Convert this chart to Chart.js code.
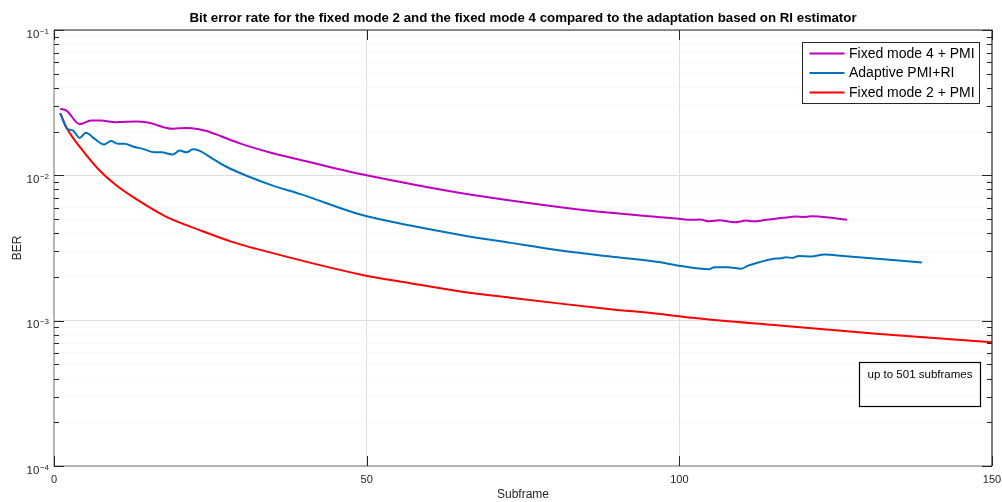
<!DOCTYPE html>
<html>
<head>
<meta charset="utf-8">
<script src="https://cdn.jsdelivr.net/npm/chart.js@4/dist/chart.umd.min.js"></script>
<style>
  html, body { margin: 0; padding: 0; background: #ffffff; overflow: hidden; }
  #wrap { width: 1002px; height: 502px; position: relative; }
</style>
</head>
<body>
<div id="wrap"><canvas id="ber"></canvas></div>
<script>
// Fixed mode 4 + PMI
const mode4Subframe = [1, 2, 4.1, 5.9, 7.5, 9.9, 13.2, 15, 19, 21.2, 23.3, 24.4, 26.8, 29.7, 35, 39.3,
  49, 57, 65, 73, 81, 89, 97, 99.9, 101.9, 103.3, 104.8, 106.4, 108.8, 110.7, 111.8, 113.9,
  116.6, 118.7, 119.8, 121.1, 124.6, 126.8];
const mode4Ber = [0.0287, 0.0279, 0.0225, 0.0238, 0.0238, 0.0232, 0.0235, 0.0231, 0.0209, 0.0212, 0.0207, 0.0202, 0.0185, 0.0166, 0.0142, 0.0128,
  0.0102, 0.00873, 0.00757, 0.00671, 0.00604, 0.00552, 0.00515, 0.00502, 0.00494, 0.00496, 0.00483, 0.0049, 0.00475, 0.00488, 0.00483, 0.00494,
  0.0051, 0.0052, 0.00516, 0.00523, 0.00508, 0.00494];

// Adaptive PMI+RI
const adaptiveSubframe = [1, 2.1, 3, 4.1, 5.1, 6.5, 8, 9.1, 10.2, 11.3, 12.6, 14.2, 16.1, 17.2, 19, 20.1, 21.2, 22.2, 23.2,
  25.4, 27.5, 30.7, 35, 39.3, 49, 57, 65, 73, 81, 89, 97, 99.9, 104.8, 105.6, 107.8, 109.9, 111,
  112.8, 114.7, 116.3, 117.1, 118.1, 119.1, 121.1, 123.2, 126.2, 138.8];
const adaptiveBer = [0.0268, 0.0209, 0.0204, 0.0181, 0.0196, 0.0178, 0.0163, 0.0172, 0.0165, 0.0165, 0.0158, 0.0152, 0.0144, 0.0144, 0.0139, 0.0148, 0.0144, 0.0151, 0.0148,
  0.013, 0.0115, 0.00997, 0.0085, 0.00746, 0.00537, 0.00451, 0.00389, 0.00343, 0.00304, 0.00276, 0.00252, 0.00239, 0.00226, 0.00233, 0.00233, 0.00228, 0.00239,
  0.00252, 0.00265, 0.00269, 0.00273, 0.0027, 0.00279, 0.00276, 0.00285, 0.00279, 0.00251];

// Fixed mode 2 + PMI
const mode2Subframe = [1, 2.2, 4.6, 7.3, 10, 12.6, 17.9, 23.3, 28.6, 32.4, 49, 57, 65, 73, 81, 89, 97, 101.6, 116, 132, 150];
const mode2Ber = [0.0267, 0.0206, 0.0148, 0.0108, 0.0085, 0.0071, 0.0052, 0.0042, 0.00347, 0.00312, 0.00208, 0.00181, 0.00159, 0.00144, 0.00131, 0.0012, 0.00111, 0.00105, 0.000925, 0.000811, 0.00071];

const seriesLabels = ['Fixed mode 4 + PMI', 'Adaptive PMI+RI', 'Fixed mode 2 + PMI'];
const seriesColors = ['#c000c0', '#0072bd', '#ff0000'];

const xTickValues = [0, 50, 100, 150];
const yDecades = [1e-4, 1e-3, 1e-2, 1e-1];
const yTickBase = '10';
const yTickExponents = ['\u22124', '\u22123', '\u22122', '\u22121'];

const titleText = 'Bit error rate for the fixed mode 2 and the fixed mode 4 compared to the adaptation based on RI estimator';
const noteText = 'up to 501 subframes';

const FONT = '"Liberation Sans", Arial, Helvetica, sans-serif';
const AXIS_COLOR = '#262626';

function pairs(xs, ys) { return xs.map((x, i) => ({ x: x, y: ys[i] })); }
function isDecade(v) { return Math.abs(Math.log10(v) - Math.round(Math.log10(v))) < 1e-6; }

// every 1..9 multiple inside each decade becomes a y tick (labels only on decades)
function logTicks() {
  const out = [];
  for (let d = 0; d < yDecades.length; d++) {
    const base = yDecades[d];
    const top = d === yDecades.length - 1 ? 1 : 9;
    for (let m = 1; m <= top; m++) out.push({ value: base * m, major: m === 1 });
  }
  return out;
}

// title, power-of-ten labels, legend, note box, axes frame and inward tick marks
const decorations = {
  id: 'decorations',
  afterDraw(chart) {
    const ctx = chart.ctx;
    const a = chart.chartArea;
    const xs = chart.scales.x, ys = chart.scales.y;
    ctx.save();

    // title
    ctx.fillStyle = '#000000';
    ctx.font = 'bold 13.3px ' + FONT;
    ctx.textAlign = 'center';
    ctx.textBaseline = 'alphabetic';
    ctx.fillText(titleText, (a.left + a.right) / 2, 22);

    // y labels: 10 with a raised exponent
    ctx.fillStyle = AXIS_COLOR;
    yDecades.forEach((v, i) => {
      const py = ys.getPixelForValue(v);
      const right = a.left - 5;
      ctx.font = '8px ' + FONT;
      ctx.textAlign = 'right';
      ctx.fillText(yTickExponents[i], right, py + 3.5);
      const ew = ctx.measureText(yTickExponents[i]).width;
      ctx.font = '11.5px ' + FONT;
      ctx.fillText(yTickBase, right - ew - 0.5, py + 7.5);
    });

    // frame: lighter left/bottom, dark top/right
    ctx.lineWidth = 1.5;
    ctx.strokeStyle = '#a0a0a0';
    ctx.beginPath();
    ctx.moveTo(a.left, a.top); ctx.lineTo(a.left, a.bottom); ctx.lineTo(a.right, a.bottom);
    ctx.stroke();
    ctx.lineWidth = 1.2;
    ctx.strokeStyle = AXIS_COLOR;
    ctx.beginPath();
    ctx.moveTo(a.left, a.top); ctx.lineTo(a.right, a.top); ctx.lineTo(a.right, a.bottom);
    ctx.stroke();

    // inward ticks
    ctx.lineWidth = 1;
    ctx.strokeStyle = AXIS_COLOR;
    ctx.beginPath();
    ys.ticks.forEach(t => {
      const py = Math.round(ys.getPixelForValue(t.value)) + 0.5;
      const len = isDecade(t.value) ? 10 : 5;
      ctx.moveTo(a.left, py); ctx.lineTo(a.left + len, py);
      ctx.moveTo(a.right, py); ctx.lineTo(a.right - len, py);
    });
    xTickValues.forEach(v => {
      const px = Math.round(xs.getPixelForValue(v)) + 0.5;
      ctx.moveTo(px, a.bottom); ctx.lineTo(px, a.bottom - 10);
      ctx.moveTo(px, a.top); ctx.lineTo(px, a.top + 10);
    });
    ctx.stroke();

    // legend
    const lx1 = a.right - 189.5, lx2 = a.right - 12.5, ly1 = 42.5, ly2 = 103.5;
    ctx.fillStyle = '#ffffff';
    ctx.fillRect(lx1, ly1, lx2 - lx1, ly2 - ly1);
    ctx.strokeStyle = AXIS_COLOR;
    ctx.lineWidth = 1;
    ctx.strokeRect(lx1, ly1, lx2 - lx1, ly2 - ly1);
    ctx.font = '14px ' + FONT;
    ctx.textAlign = 'left';
    ctx.textBaseline = 'middle';
    chart.data.datasets.forEach((ds, i) => {
      const cy = 53.5 + i * 19.5;
      ctx.strokeStyle = ds.borderColor;
      ctx.lineWidth = 2;
      ctx.beginPath();
      ctx.moveTo(lx1 + 7, cy); ctx.lineTo(lx1 + 42, cy);
      ctx.stroke();
      ctx.fillStyle = '#000000';
      ctx.fillText(ds.label, lx1 + 46.5, cy + 0.5);
    });

    // note box
    const nx1 = a.right - 132.5, nx2 = a.right - 11.5, ny1 = a.bottom - 103.5, ny2 = a.bottom - 59.5;
    ctx.strokeStyle = '#000000';
    ctx.lineWidth = 1.2;
    ctx.strokeRect(nx1, ny1, nx2 - nx1, ny2 - ny1);
    ctx.fillStyle = '#000000';
    ctx.font = '11.5px ' + FONT;
    ctx.textAlign = 'center';
    ctx.textBaseline = 'middle';
    ctx.fillText(noteText, (nx1 + nx2) / 2, ny1 + 12);

    ctx.restore();
  }
};

const makeDataset = (i, xs, ys) => ({
  label: seriesLabels[i],
  data: pairs(xs, ys),
  borderColor: seriesColors[i],
  backgroundColor: seriesColors[i],
  borderWidth: 2,
  pointRadius: 0,
  fill: false,
  cubicInterpolationMode: 'monotone'
});

new Chart(document.getElementById('ber'), {
  type: 'line',
  data: {
    datasets: [
      makeDataset(0, mode4Subframe, mode4Ber),
      makeDataset(1, adaptiveSubframe, adaptiveBer),
      makeDataset(2, mode2Subframe, mode2Ber)
    ]
  },
  options: {
    responsive: true,
    maintainAspectRatio: false,
    animation: false,
    devicePixelRatio: 1,
    layout: { padding: { top: 30, right: 10, left: 0, bottom: 0 } },
    plugins: {
      legend: { display: false },
      title: { display: false },
      tooltip: { enabled: false }
    },
    scales: {
      x: {
        type: 'linear',
        min: 0,
        max: 150,
        afterBuildTicks: s => { s.ticks = xTickValues.map(v => ({ value: v })); },
        afterFit: s => { s.height = 36; s.paddingLeft = 0; s.paddingRight = 0; },
        ticks: {
          autoSkip: false,
          maxRotation: 0,
          padding: 7,
          color: AXIS_COLOR,
          font: { family: FONT, size: 11 },
          callback: v => String(v)
        },
        grid: {
          drawTicks: false,
          lineWidth: 1,
          color: c => (c.tick && (c.tick.value === 50 || c.tick.value === 100)) ? '#dedede' : 'rgba(0,0,0,0)'
        },
        border: { display: false },
        title: {
          display: true,
          text: 'Subframe',
          color: AXIS_COLOR,
          font: { family: FONT, size: 12 },
          padding: { top: 0, bottom: 0 }
        }
      },
      y: {
        type: 'logarithmic',
        min: 1e-4,
        max: 1e-1,
        afterBuildTicks: s => { s.ticks = logTicks(); },
        afterFit: s => { s.width = 54; s.paddingTop = 0; s.paddingBottom = 0; },
        ticks: {
          autoSkip: false,
          padding: 5,
          color: AXIS_COLOR,
          font: { family: FONT, size: 11 },
          callback: () => ''
        },
        grid: {
          drawTicks: false,
          lineWidth: 1,
          color: c => (c.tick && isDecade(c.tick.value)) ? '#dedede' : '#e6e6e6'
        },
        border: {
          display: false,
          dash: c => (c.tick && isDecade(c.tick.value)) ? [] : [1, 3]
        },
        title: {
          display: true,
          text: 'BER',
          color: AXIS_COLOR,
          font: { family: FONT, size: 12 },
          padding: { top: 10, bottom: 0 }
        }
      }
    }
  },
  plugins: [decorations]
});
</script>
</body>
</html>
